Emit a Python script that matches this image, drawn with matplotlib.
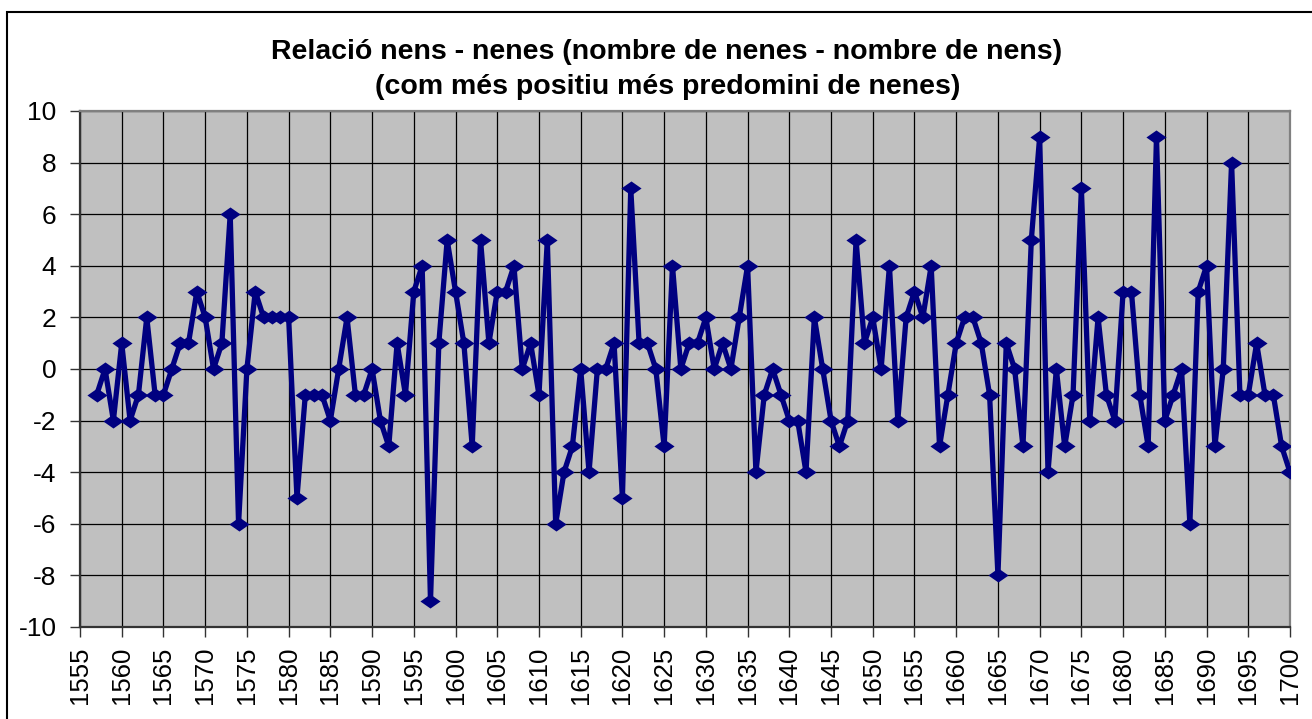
import matplotlib.pyplot as plt
from matplotlib.patches import Rectangle

years = list(range(1557, 1701))
diferencia = [
    -1, 0, -2, 1, -2, -1, 2, -1, -1, 0,          # 1557-1566
    1, 1, 3, 2, 0, 1, 6, -6, 0, 3,               # 1567-1576
    2, 2, 2, 2, -5, -1, -1, -1, -2, 0,           # 1577-1586
    2, -1, -1, 0, -2, -3, 1, -1, 3, 4,           # 1587-1596
    -9, 1, 5, 3, 1, -3, 5, 1, 3, 3,              # 1597-1606
    4, 0, 1, -1, 5, -6, -4, -3, 0, -4,           # 1607-1616
    0, 0, 1, -5, 7, 1, 1, 0, -3, 4,              # 1617-1626
    0, 1, 1, 2, 0, 1, 0, 2, 4, -4,               # 1627-1636
    -1, 0, -1, -2, -2, -4, 2, 0, -2, -3,         # 1637-1646
    -2, 5, 1, 2, 0, 4, -2, 2, 3, 2,              # 1647-1656
    4, -3, -1, 1, 2, 2, 1, -1, -8, 1,            # 1657-1666
    0, -3, 5, 9, -4, 0, -3, -1, 7, -2,           # 1667-1676
    2, -1, -2, 3, 3, -1, -3, 9, -2, -1,          # 1677-1686
    0, -6, 3, 4, -3, 0, 8, -1, -1, 1,            # 1687-1696
    -1, -1, -3, -4,                              # 1697-1700
]
x_ticks = list(range(1555, 1701, 5))
y_ticks = list(range(-10, 11, 2))
titol_1 = 'Relació nens - nenes (nombre de nenes - nombre de nens)'
titol_2 = '(com més positiu més predomini de nenes)'

plt.rcParams['font.family'] = ['Liberation Sans', 'DejaVu Sans']

fig = plt.figure(figsize=(13.12, 7.19), dpi=100)
ax = fig.add_axes([80 / 1312, 1 - 627 / 719, 1210 / 1312, 516 / 719])

# marc exterior del gràfic
fig.patches.append(Rectangle((7 / 1312, -0.05), 1.2, 1 - 12 / 719 + 0.05,
                             transform=fig.transFigure, fill=False,
                             edgecolor='black', linewidth=1.5))

ax.set_facecolor('#C0C0C0')
diamond = [(-1, 0), (0, 0.7), (1, 0), (0, -0.7)]
ax.plot(years, diferencia, color='#000080', linewidth=3.8,
        marker=diamond, markersize=14.5, markeredgewidth=0, zorder=3)

ax.set_xlim(1555, 1700)
ax.set_ylim(-10, 10)
ax.set_xticks(x_ticks)
ax.set_yticks(y_ticks)
ax.set_xticklabels([str(t) for t in x_ticks], rotation=90, fontsize=18.5)
ax.set_yticklabels([str(t) for t in y_ticks], fontsize=19)
ax.tick_params(axis='both', direction='out', length=7, width=1, color='#333333')
ax.tick_params(axis='x', pad=7)
ax.tick_params(axis='y', pad=10)
ax.grid(True, color='black', linewidth=0.9)
ax.set_axisbelow(True)

for s in ['left', 'bottom']:
    ax.spines[s].set_color('#333333')
    ax.spines[s].set_linewidth(1.6)
for s in ['top', 'right']:
    ax.spines[s].set_color('#808080')
    ax.spines[s].set_linewidth(1.6)

fig.text(667 / 1312, 1 - 52 / 719, titol_1, ha='center', va='center',
         fontsize=20.5, fontweight='bold')
fig.text(668 / 1312, 1 - 87 / 719, titol_2, ha='center', va='center',
         fontsize=20.5, fontweight='bold')

fig.savefig('out.png', dpi=100)
